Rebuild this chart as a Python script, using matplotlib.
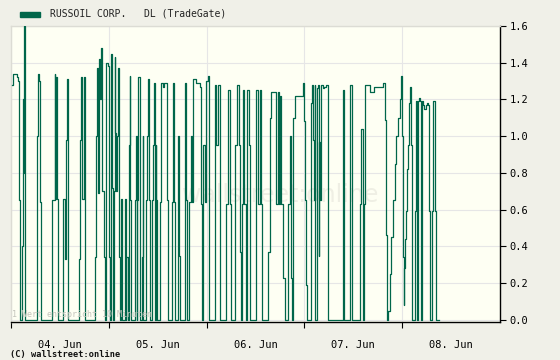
import numpy as np
import matplotlib
matplotlib.use("Agg")
import matplotlib.pyplot as plt
from matplotlib.patches import Rectangle

# hours since 04. Jun 00:00, price in EUR (10 minute values)
t_04 = [0.25, 0.5, 1.0, 1.35, 1.7, 2.0, 2.2, 2.7, 2.75, 2.95, 3.1, 3.3, 3.4,
        6.2, 6.3, 6.5, 6.65, 6.9, 7.15, 7.2, 7.45,
        10.1, 10.15, 10.75, 10.9, 11.15, 11.3, 11.55,
        12.8, 12.85, 13.3, 13.6, 13.85, 14.1,
        16.75, 16.8, 17.0, 17.15, 17.45, 17.9, 18.15,
        20.6, 20.65, 20.75, 21.0, 21.25, 21.6, 21.8, 22.05, 22.45, 22.75, 23.0,
        23.2, 23.3, 23.7]
v_04 = [1.28, 1.34, 1.34, 1.32, 1.30, 0.65, 0.0, 0.0, 0.40, 1.20, 0.80, 1.60, 0.0,
        0.0, 0.33, 1.0, 1.34, 1.30, 1.29, 0.64, 0.0,
        0.0, 0.65, 1.34, 0.66, 1.32, 0.66, 0.0,
        0.0, 0.66, 0.33, 0.98, 1.31, 0.0,
        0.0, 0.33, 0.98, 1.32, 0.66, 1.32, 0.0,
        0.0, 0.34, 1.0, 1.37, 0.69, 1.42, 1.20, 1.48, 0.70, 0.34, 0.0,
        0.0, 1.40, 1.38]

t_05 = [24.0, 24.1, 24.3, 24.5, 24.6, 24.85, 25.0, 25.2, 25.4, 25.6, 25.8, 26.0,
        26.25, 26.5, 26.6, 26.8, 27.05, 27.2, 27.8, 27.9, 28.1, 28.3, 28.6, 28.9,
        29.1, 29.3, 29.5, 30.3, 30.5, 30.6, 30.9, 31.0, 31.2, 31.6, 31.7, 32.1,
        32.15, 32.3, 32.4, 32.5, 33.0, 33.2, 33.4, 33.6, 33.9, 34.0, 34.6, 34.7,
        34.9, 35.1, 35.3, 35.4, 35.5, 35.7, 35.8, 36.3, 36.5, 36.7, 36.9, 37.2,
        37.5, 38.0, 38.3, 38.5, 39.4, 39.5, 39.7, 40.0, 40.2, 40.9, 41.0, 41.3,
        41.5, 42.5, 42.6, 42.65, 43.05, 43.2, 43.5, 43.7, 43.9, 44.1, 44.5, 44.7,
        45.5, 46.35, 46.6, 46.8, 47.0, 47.2, 47.5]
v_05 = [1.0, 0.34, 0.0, 0.72, 1.45, 0.72, 0.0, 0.70, 1.43, 1.02, 0.70, 1.0,
        1.37, 0.66, 0.34, 0.0, 0.66, 0.0, 0.0, 0.66, 0.0, 0.34, 0.0, 0.95,
        1.33, 0.65, 0.0, 0.0, 0.65, 1.0, 0.0, 0.65, 1.32, 0.65, 0.0, 0.0,
        0.34, 0.65, 1.0, 0.0, 0.0, 0.65, 1.0, 1.31, 0.65, 0.0, 0.0, 0.65,
        0.95, 1.29, 0.35, 0.0, 0.95, 0.65, 0.0, 0.0, 0.64, 0.95, 1.29, 1.27,
        1.29, 1.29, 0.65, 0.0, 0.0, 0.64, 1.29, 0.64, 0.0, 0.0, 1.0, 0.35,
        0.0, 0.0, 0.64, 1.29, 0.65, 0.0, 0.0, 0.64, 0.64, 1.0, 0.64, 1.31,
        1.29, 1.27, 0.63, 0.0, 0.35, 0.95, 0.64]

t_06 = [47.9, 48.3, 48.5, 48.7, 49.55, 50.0, 50.4, 50.8, 51.2, 51.4, 52.4, 52.8,
        53.2, 53.65, 54.1, 54.9, 55.0, 55.5, 55.9, 56.1, 56.4, 56.7, 56.9, 57.3,
        57.75, 58.0, 58.3, 58.6, 59.8, 60.0, 60.2, 60.6, 61.0, 61.4, 61.6, 62.9,
        63.1, 63.5, 63.9, 64.7, 65.0, 65.4, 65.7, 65.95, 66.2, 66.8, 67.2, 67.8,
        68.0, 68.4, 68.7, 69.0, 69.2, 69.6, 71.6]
v_06 = [1.30, 1.33, 1.10, 0.0, 0.0, 1.28, 0.95, 1.28, 0.63, 0.0, 0.0, 0.63,
        1.25, 0.63, 0.0, 0.0, 0.95, 1.28, 0.95, 0.37, 0.0, 0.63, 1.25, 0.63,
        0.0, 1.25, 0.95, 0.0, 0.0, 0.95, 1.25, 0.63, 1.25, 0.63, 0.0, 0.0,
        0.37, 1.10, 1.24, 1.24, 0.63, 1.24, 0.63, 1.22, 0.63, 0.23, 0.0, 0.0,
        0.63, 1.0, 0.23, 0.0, 1.10, 1.22, 1.29]

t_07 = [72.0, 72.25, 72.4, 72.6, 73.4, 73.65, 73.9, 74.1, 74.3, 74.5, 74.7, 75.0,
        75.2, 75.4, 75.5, 75.7, 75.9, 76.1, 76.5, 76.9, 77.3, 77.7, 81.3, 81.4,
        81.8, 83.1, 83.3, 83.6, 83.7, 85.4, 85.7, 86.0, 86.4, 86.6, 86.85, 87.8,
        88.2, 89.2, 91.3, 91.7, 92.0, 92.3, 92.6, 92.9, 93.3, 93.7, 94.2, 94.6,
        95.0, 95.4, 95.8]
v_07 = [1.08, 0.65, 0.19, 0.0, 0.0, 1.18, 1.28, 0.98, 0.65, 1.28, 0.0, 0.0,
        1.26, 1.28, 0.35, 0.97, 0.65, 1.28, 1.26, 1.27, 1.28, 0.0, 0.0, 1.25,
        0.0, 0.0, 1.28, 0.63, 0.0, 0.0, 0.63, 1.04, 0.0, 0.63, 1.28, 1.28,
        1.24, 1.27, 1.29, 1.09, 0.46, 0.0, 0.05, 0.25, 0.45, 0.65, 0.85, 1.0,
        1.10, 1.20, 1.33]

t_08 = [96.0, 96.2, 96.35, 96.5, 96.7, 97.0, 97.25, 97.5, 97.65, 97.9, 98.1, 98.3,
        98.5, 98.9, 99.05, 99.3, 99.55, 99.7, 99.9, 100.1, 100.4, 100.6, 100.8,
        101.2, 101.4, 101.8, 102.2, 102.4, 102.6, 102.7, 103.2, 103.4, 103.5,
        103.9, 104.05, 104.2, 105.0]
v_08 = [1.0, 0.34, 0.08, 0.28, 0.44, 0.59, 0.82, 0.95, 1.18, 1.27, 0.95, 0.32,
        0.0, 0.0, 0.59, 1.19, 0.59, 0.0, 1.19, 1.21, 1.19, 0.0, 1.19,
        1.17, 1.15, 1.17, 1.18, 1.17, 0.59, 0.0, 0.0, 0.59, 1.19,
        1.19, 0.59, 0.0, 0.0]

day_labels = ["04. Jun", "05. Jun", "06. Jun", "07. Jun", "08. Jun"]
y_ticks = [0.0, 0.2, 0.4, 0.6, 0.8, 1.0, 1.2, 1.4, 1.6]

name = "RUSSOIL CORP.   DL (TradeGate)"
green = "#00664a"
outer_bg = "#f0f0e8"
plot_bg = "#fefff3"
mono = "DejaVu Sans Mono"

t = np.concatenate([t_04, t_05, t_06, t_07, t_08])
v = np.concatenate([v_04, v_05, v_06, v_07, v_08])

fig = plt.figure(figsize=(5.6, 3.6), dpi=100, facecolor=outer_bg)
ax = fig.add_axes([11 / 560, 1 - 322 / 360, 489 / 560, 296 / 360])
ax.set_facecolor(plot_bg)

# faint watermark
ax.text(0.55, 0.43, "wallstreet:online", transform=ax.transAxes, ha="center",
        va="center", fontsize=17, color="#efefe4", zorder=0)

ax.plot(t, v, color=green, lw=0.9, drawstyle="steps-post", zorder=3)

ax.set_xlim(0, 120)
ax.set_ylim(-0.012, 1.6)

day_ticks = np.arange(len(day_labels)) * 24
ax.set_xticks(day_ticks)
ax.set_xticklabels([])
ax.set_xticks(day_ticks + 12, minor=True)
ax.set_xticklabels(day_labels, minor=True, fontsize=7.5, family=mono)
ax.tick_params(axis="x", which="major", length=4, width=0.8, direction="out")
ax.tick_params(axis="x", which="minor", length=0, pad=13)

ax.yaxis.tick_right()
ax.set_yticks(y_ticks)
ax.set_yticklabels([f"{y:.1f}" for y in y_ticks], fontsize=7.5, family=mono)
ax.tick_params(axis="y", length=4, width=0.8, direction="out", pad=3)

ax.grid(True, which="major", color="#e6e6e6", lw=0.8, zorder=1)
ax.set_axisbelow(True)

for side in ["top", "left"]:
    ax.spines[side].set_color("#dcdcd4")
    ax.spines[side].set_linewidth(1.0)
for side in ["right", "bottom"]:
    ax.spines[side].set_color("black")
    ax.spines[side].set_linewidth(1.0)

ax.text(0.003, 0.01, "1 Wert entspricht 10 Minuten", transform=ax.transAxes,
        fontsize=6, family=mono, color="#c4c4bc", va="bottom", zorder=4)

# legend in the header
fig.patches.append(Rectangle((20 / 560, 1 - 17 / 360), 20 / 560, 5 / 360,
                             transform=fig.transFigure, color=green))
fig.text(50 / 560, 1 - 14 / 360, name, fontsize=7, family=mono, va="center",
         color="#222222")

fig.text(10 / 560, 1 - 354 / 360, "(C) wallstreet:online", fontsize=6.2,
         family=mono, fontweight="bold", va="center", color="#111111")

fig.savefig("out.png", dpi=100, facecolor=outer_bg)
